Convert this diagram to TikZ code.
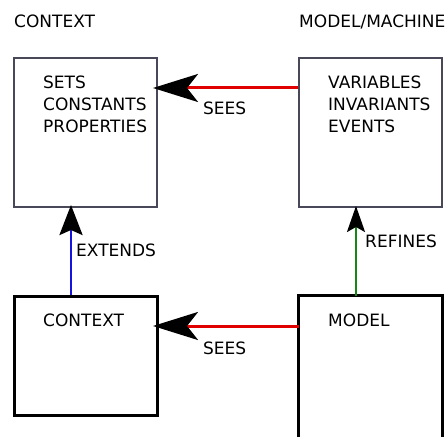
\documentclass[tikz,border=0pt]{standalone}
\usepackage{fontspec}
\setmainfont{DejaVu Sans}
\usetikzlibrary{arrows.meta,calc}

\definecolor{framegray}{RGB}{72,72,88}
\definecolor{seesred}{RGB}{225,0,0}
\definecolor{extblue}{RGB}{20,20,220}
\definecolor{refgreen}{RGB}{20,135,20}

\tikzset{
  x=1pt, y=1pt,
  lbl/.style={anchor=base west, inner sep=0pt, font=\fontsize{17}{22}\selectfont, align=left},
  topbox/.style={draw=framegray, line width=1.7pt, minimum width=143pt, minimum height=149pt, inner sep=0pt},
  lowbox/.style={draw=black, line width=3pt, minimum width=143pt, minimum height=119pt, inner sep=0pt},
  seesline/.style={draw=seesred, line width=3pt, -{Stealth[length=45pt, width=28pt, inset=11pt, fill=black, color=black]}},
  extline/.style={draw=extblue, line width=2.7pt, -{Stealth[length=30pt, width=23pt, inset=5pt, fill=black, color=black]}},
  refline/.style={draw=refgreen, line width=2.3pt, -{Stealth[length=26pt, width=18pt, inset=5pt, fill=black, color=black]}},
}

\begin{document}
\begin{tikzpicture}
\useasboundingbox (0,0) rectangle (446,437);

% headings
\node[lbl] (hctx) at (14,409) {CONTEXT};
\node[lbl] (hmach) at (299,409) {MODEL/MACHINE};

% upper context and machine boxes
\node[topbox] (ctx) at (85.5,304.5) {};
\node[topbox] (mach) at (370.5,304.5) {};
\node[lbl] (ctxtxt) at (43,305) {SETS\\CONSTANTS\\PROPERTIES};
\node[lbl] (machtxt) at (328,305) {VARIABLES\\INVARIANTS\\EVENTS};

% lower context box
\node[lowbox] (ctx2) at (85.5,81.5) {};
\node[lbl] (ctx2txt) at (43,111) {CONTEXT};

% lower model box, open at the bottom
\node[minimum width=143pt, minimum height=141pt, inner sep=0pt] (model) at (370.5,70.5) {};
\draw[black, line width=3pt] (model.south west) -- (model.north west) -- (model.north east) -- (model.south east);
\node[lbl] (modeltxt) at (328,111) {MODEL};

% connector ends
\coordinate (s1a) at (mach.west |- 0,349);
\coordinate (s1b) at (153,349);
\coordinate (s2a) at (model.west |- 0,111);
\coordinate (s2b) at (153,111);
\coordinate (e1) at (71,232);
\coordinate (r1) at (356,231);

% connectors
\draw[seesline] (s1a) -- (s1b);
\draw[seesline] (s2a) -- (s2b);
\draw[extline] (ctx2.north -| e1) -- (e1);
\draw[refline] (model.north -| r1) -- (r1);

% connector labels
\node[lbl] (sees1) at (203,322) {SEES};
\node[lbl] (sees2) at (203,83) {SEES};
\node[lbl] (ext) at (76,181) {EXTENDS};
\node[lbl] (ref) at (365,190) {REFINES};
\end{tikzpicture}
\end{document}
